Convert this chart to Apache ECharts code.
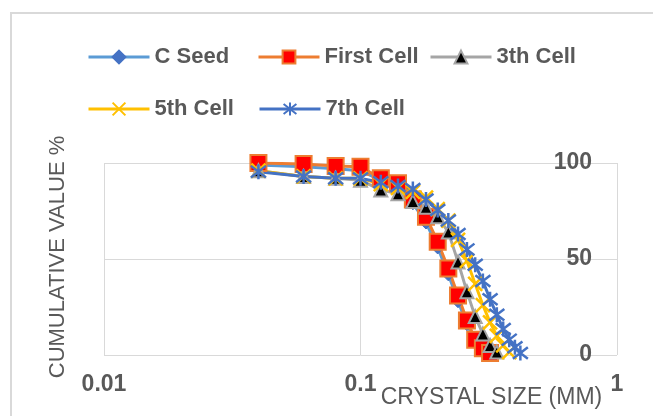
<!DOCTYPE html>
<html><head><meta charset="utf-8">
<script src="https://cdn.jsdelivr.net/npm/echarts@6/dist/echarts.min.js"></script>
<style>html,body{margin:0;padding:0;background:#fff}#c{width:653px;height:416px}</style>
</head><body><div id="c"></div>
<script>
// crystal sizes (mm), shared sieve positions
const sizes = [0.04,0.06,0.08,0.10,0.12,0.14,0.16,0.18,0.20,0.22,0.24,0.26,0.28,0.30,0.32,0.34,0.36,0.38,0.40,0.42];
// cumulative value % per series
const cSeed      = [99, 98, 97, 96, 91, 88, 79, 69, 56, 42, 28, 16, 7, 2.5, 0.5];
const firstCell  = [100, 99.5, 98.5, 98, 92, 89.5, 81, 72, 59, 45, 31, 18, 8, 3.5, 1];
const thirdCell  = [96, 93, 92, 91, 86, 84, 80, 77, 72, 64, 48.5, 33, 20, 11, 5, 1.5];
const fifthCell  = [96, 93, 92, 92, 89, 87, 85, 82, 76, 70, 60, 49, 37, 26, 17, 10, 5, 1.5];
const seventhCell= [95.5, 93, 92, 92, 90, 88, 86.5, 81, 75.5, 70, 63, 55, 47, 38.5, 29, 21, 13.5, 8, 4, 1];
const seriesNames = ['C Seed', 'First Cell', '3th Cell', '5th Cell', '7th Cell'];
const xTicks = [0.01, 0.1, 1];
const yMin = 0, yMax = 100, yStep = 50;
const xTitle = 'CRYSTAL SIZE (MM)';
const yTitle = 'CUMULATIVE VALUE %';

const FONT = '"Liberation Sans", Arial, sans-serif';
const TXT = '#595959';
const GRID = '#D9D9D9';

function pairs(ys) { return ys.map((y, i) => [sizes[i], y]); }

const styles = [
  { line: '#5B9BD5', symbol: 'diamond', size: 13, item: { color: '#4472C4', borderColor: '#4472C4', borderWidth: 1 } },
  { line: '#ED7D31', symbol: 'rect', size: 16, item: { color: '#FF0000', borderColor: '#ED7D31', borderWidth: 2 } },
  { line: '#A5A5A5', symbol: 'triangle', size: 13, item: { color: '#000000', borderColor: '#A5A5A5', borderWidth: 2 } },
  { line: '#FFC000', symbol: 'path://M0,0L10,10M10,0L0,10', size: 14, item: { color: '#FFC000', borderColor: '#FFC000', borderWidth: 2.5 } },
  { line: '#4472C4', symbol: 'path://M0,0L10,10M10,0L0,10M5,-1.5L5,11.5', size: 15, item: { color: '#4472C4', borderColor: '#4472C4', borderWidth: 2.5 } }
];
const allData = [cSeed, firstCell, thirdCell, fifthCell, seventhCell];

const series = seriesNames.map((n, k) => ({
  name: n, type: 'line', data: pairs(allData[k]),
  symbol: styles[k].symbol, symbolSize: styles[k].size, showAllSymbol: true,
  lineStyle: { color: styles[k].line, width: 3 },
  itemStyle: styles[k].item,
  emphasis: { disabled: true }, animation: false
}));

const legendPos = [[87, 46], [257, 46], [429, 46], [87, 98], [258, 98]];
const legends = seriesNames.map((n, k) => ({
  data: [n], left: legendPos[k][0], top: legendPos[k][1], padding: 0,
  itemWidth: 61, itemHeight: 16, selectedMode: false,
  lineStyle: { width: 3 },
  textStyle: { fontFamily: FONT, fontSize: 22, fontWeight: 'bold', color: TXT }
}));

const chart = echarts.init(document.getElementById('c'), null, { renderer: 'canvas' });
chart.setOption({
  animation: false,
  backgroundColor: '#fff',
  grid: { left: 104, right: 36, top: 163, bottom: 61, containLabel: false },
  legend: legends,
  xAxis: {
    type: 'log', logBase: 10, min: xTicks[0], max: xTicks[xTicks.length - 1],
    axisLine: { show: false }, axisTick: { show: false },
    splitLine: { show: true, lineStyle: { color: GRID, width: 1 } },
    axisLabel: {
      color: TXT, fontFamily: FONT, fontSize: 23, fontWeight: 'bold', margin: 18,
      formatter: v => { const t = xTicks.find(t => Math.abs(Math.log10(t) - Math.log10(v)) < 1e-6); return t === undefined ? '' : String(t); }
    }
  },
  yAxis: {
    type: 'value', position: 'right', min: yMin, max: yMax, interval: yStep,
    axisLine: { show: false }, axisTick: { show: false },
    splitLine: { show: true, lineStyle: { color: GRID, width: 1 } },
    axisLabel: { inside: true, margin: 25, color: TXT, fontFamily: FONT, fontSize: 23, fontWeight: 'bold' }
  },
  graphic: [
    { type: 'rect', silent: true, z: -10, shape: { x: 11, y: 13, width: 900, height: 700 }, style: { fill: 'none', stroke: GRID, lineWidth: 2 } },
    { type: 'text', silent: true, x: 57.5, y: 257, rotation: Math.PI / 2, style: { text: yTitle, fontFamily: FONT, fontSize: 22, fill: TXT, align: 'center', verticalAlign: 'middle' } },
    { type: 'text', silent: true, x: 491.5, y: 398, style: { text: xTitle, fontFamily: FONT, fontSize: 23, fill: TXT, align: 'center', verticalAlign: 'middle' } }
  ],
  series: series
});
</script></body></html>
